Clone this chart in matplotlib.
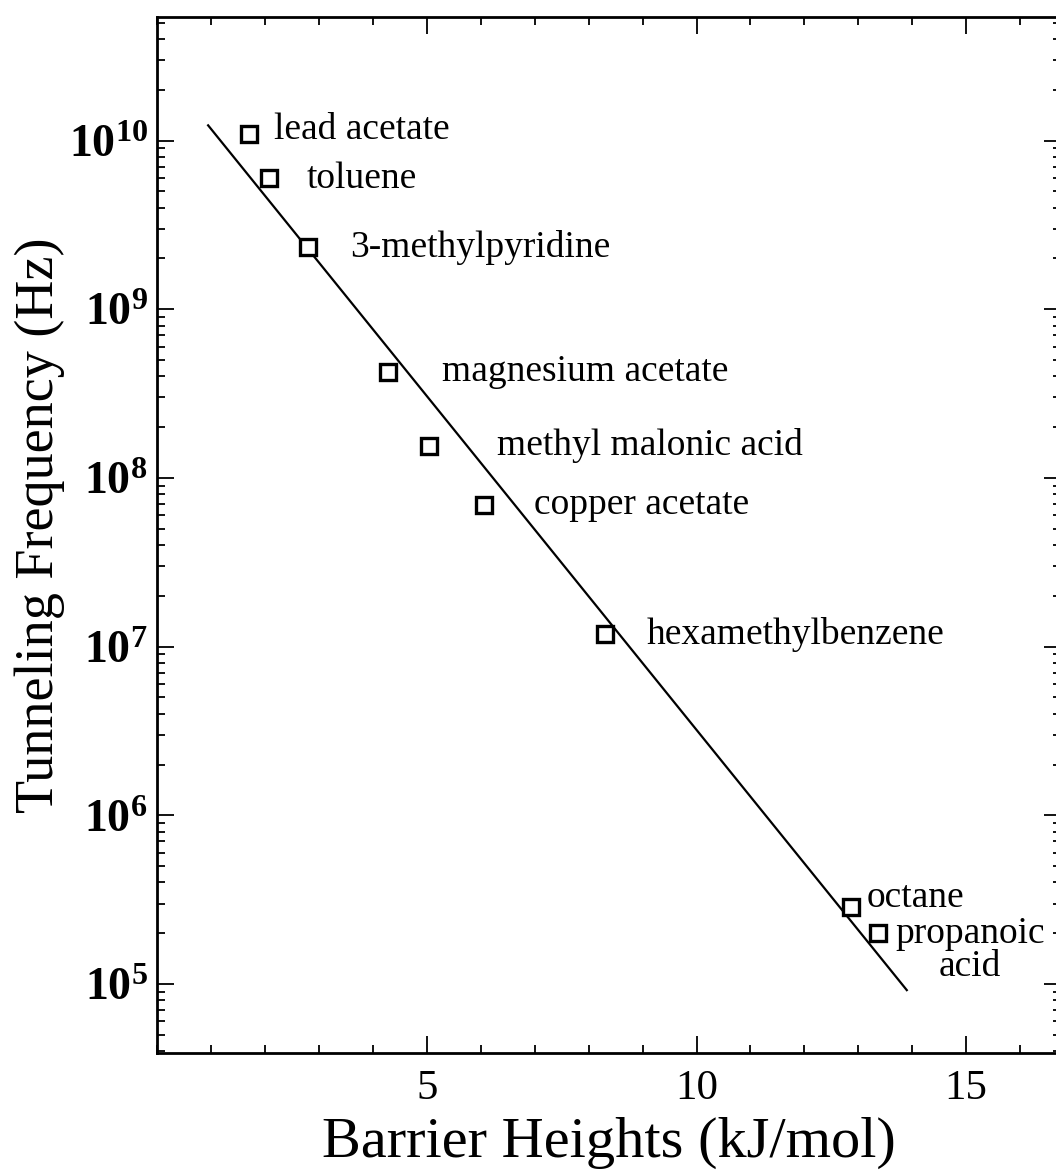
import math
import matplotlib
matplotlib.use("Agg")
import matplotlib.pyplot as plt
from matplotlib.ticker import FixedLocator, FuncFormatter, LogLocator, MultipleLocator, NullFormatter

plt.rcParams['font.family'] = ['Liberation Serif', 'DejaVu Serif']
plt.rcParams['mathtext.fontset'] = 'custom'
plt.rcParams['mathtext.rm'] = 'Liberation Serif'
plt.rcParams['mathtext.bf'] = 'Liberation Serif:bold'

# barrier heights (kJ/mol) and tunneling frequencies (Hz)
compounds = ['lead acetate', 'toluene', '3-methylpyridine', 'magnesium acetate',
             'methyl malonic acid', 'copper acetate', 'hexamethylbenzene',
             'octane', 'propanoic\nacid']
barrier = [1.70, 2.07, 2.80, 4.28, 5.04, 6.06, 8.30, 12.87, 13.37]
frequency = [1.09e10, 5.96e9, 2.33e9, 4.24e8, 1.55e8, 6.9e7, 1.18e7, 2.86e5, 2.0e5]

# straight-line fit drawn in the figure
fit_x = [0.94, 13.9]
fit_y = [1.23e10, 9.2e4]

x_ticks = [5, 10, 15]
y_ticks = [1e5, 1e6, 1e7, 1e8, 1e9, 1e10]

# label offsets in points from each marker
label_dx = [18, 27, 30, 39, 49, 36, 30, 11, 12]
label_dy = [3, 0, 0, 0, 0, 0, 0, 7, -12]

fig = plt.figure(figsize=(10.56, 11.7), dpi=100)
ax = fig.add_axes([0.1491, 0.1, 0.8556, 0.8855])

ax.plot(fit_x, fit_y, color='black', lw=1.6)
ax.plot(barrier, frequency, linestyle='none', marker='s', ms=11.5,
        mfc='white', mec='black', mew=2.4)

for name, x, y, dx, dy in zip(compounds, barrier, frequency, label_dx, label_dy):
    ax.annotate(name, (x, y), xytext=(dx, dy), textcoords='offset points',
                ha='left', va='center', fontsize=27, multialignment='center',
                linespacing=0.95)

ax.set_yscale('log')
ax.set_xlim(0, 16.76)
ax.set_ylim(3.9e4, 5.4e10)

ax.xaxis.set_major_locator(FixedLocator(x_ticks))
ax.xaxis.set_minor_locator(MultipleLocator(1))
ax.yaxis.set_major_locator(FixedLocator(y_ticks))
ax.yaxis.set_minor_locator(LogLocator(base=10, subs=range(2, 10), numticks=20))
ax.yaxis.set_major_formatter(FuncFormatter(
    lambda v, p: r'$\mathbf{10^{%d}}$' % round(math.log10(v))))
ax.yaxis.set_minor_formatter(NullFormatter())

ax.tick_params(which='both', direction='in', top=True, right=True, width=1.3)
ax.tick_params(which='major', length=12)
ax.tick_params(which='minor', length=6)
ax.tick_params(axis='x', labelsize=31, pad=12)
ax.tick_params(axis='y', labelsize=33, pad=7)

for s in ax.spines.values():
    s.set_linewidth(2)

ax.set_xlabel('Barrier Heights (kJ/mol)', fontsize=42)
ax.xaxis.set_label_coords(0.5, -0.1)
ax.xaxis.label.set_va('baseline')
ax.set_ylabel('Tunneling Frequency (Hz)', fontsize=39)
ax.yaxis.set_label_coords(-0.130, 0.509)
ax.yaxis.label.set_va('center')

fig.savefig('out.png', dpi=100)
